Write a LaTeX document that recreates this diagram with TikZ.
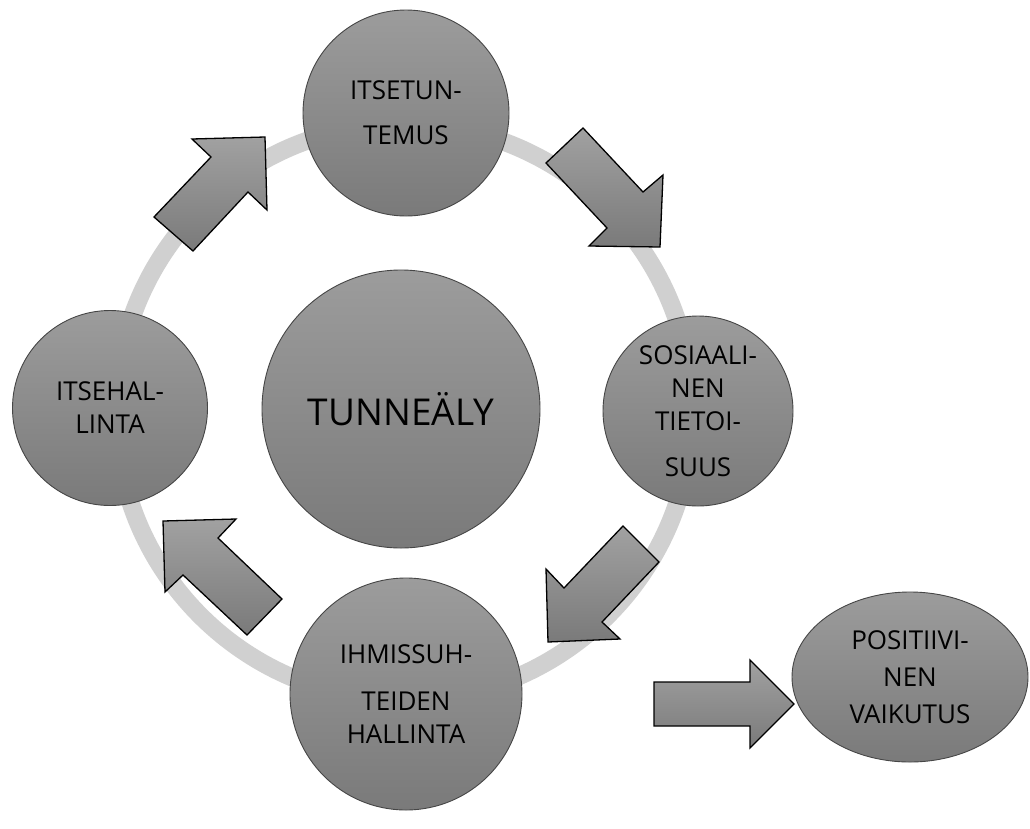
\documentclass[tikz,border=0pt]{standalone}
\usepackage{fontspec}
\usetikzlibrary{shapes.geometric}
\setmainfont{Open Sans}
\definecolor{ringgray}{RGB}{208,208,208}
\definecolor{topgray}{RGB}{156,156,156}
\definecolor{botgray}{RGB}{122,122,122}
\definecolor{edgegray}{RGB}{70,70,70}
\begin{document}
\begin{tikzpicture}[x=1pt,y=-1pt,
  ball/.style={circle, draw=edgegray, line width=0.9pt, top color=topgray, bottom color=botgray,
    inner sep=0pt, align=center, text=black, font=\fontsize{26}{33}\selectfont},
  blockarrow/.style={draw=black, line width=1.3pt, line join=miter, top color=topgray!95!white, bottom color=botgray},
  ring/.style={draw=ringgray, line width=18pt}]
\useasboundingbox[fill=white] (0,0) rectangle (1030,828);
% ring
\draw[ring] (404,412) circle[radius=288pt];
% circles
\node[ball, minimum size=278pt, font=\fontsize{37}{44}\selectfont] (tunne) at (401,409) {TUNNEÄLY};
\node[ball, minimum size=206pt] (itsetun) at (406,113) {ITSETUN-\\[12pt]TEMUS};
\node[ball, minimum size=190pt] (sosiaali) at (698,411) {SOSIAALI-\\NEN\\TIETOI-\\[13pt]SUUS};
\node[ball, minimum size=195pt] (itsehal) at (110,408) {ITSEHAL-\\LINTA};
\node[ball, minimum size=232pt] (ihmis) at (406,694) {IHMISSUH-\\[14pt]TEIDEN\\HALLINTA};
\node[ball, ellipse, minimum width=236pt, minimum height=170pt, font=\fontsize{26}{37}\selectfont] (posit) at (910,677) {POSITIIVI-\\NEN\\VAIKUTUS};
% block arrows
\path[blockarrow] (154,217) -- (211,157) -- (192,139) -- (265,137) -- (267,210) -- (248,192) -- (193,251) -- cycle;
\path[blockarrow] (546,163) -- (583,128) -- (643,192) -- (663,175) -- (660,247) -- (589,246) -- (607,228) -- cycle;
\path[blockarrow] (623,526) -- (659,562) -- (602,622) -- (620,639) -- (548,642) -- (546,569) -- (564,588) -- cycle;
\path[blockarrow] (163,521) -- (236,519) -- (218,538) -- (282,599) -- (247,635) -- (183,575) -- (165,592) -- cycle;
\path[blockarrow] (654,682) -- (750,682) -- (750,660) -- (794,704) -- (750,748) -- (750,726) -- (654,726) -- cycle;
\end{tikzpicture}
\end{document}
